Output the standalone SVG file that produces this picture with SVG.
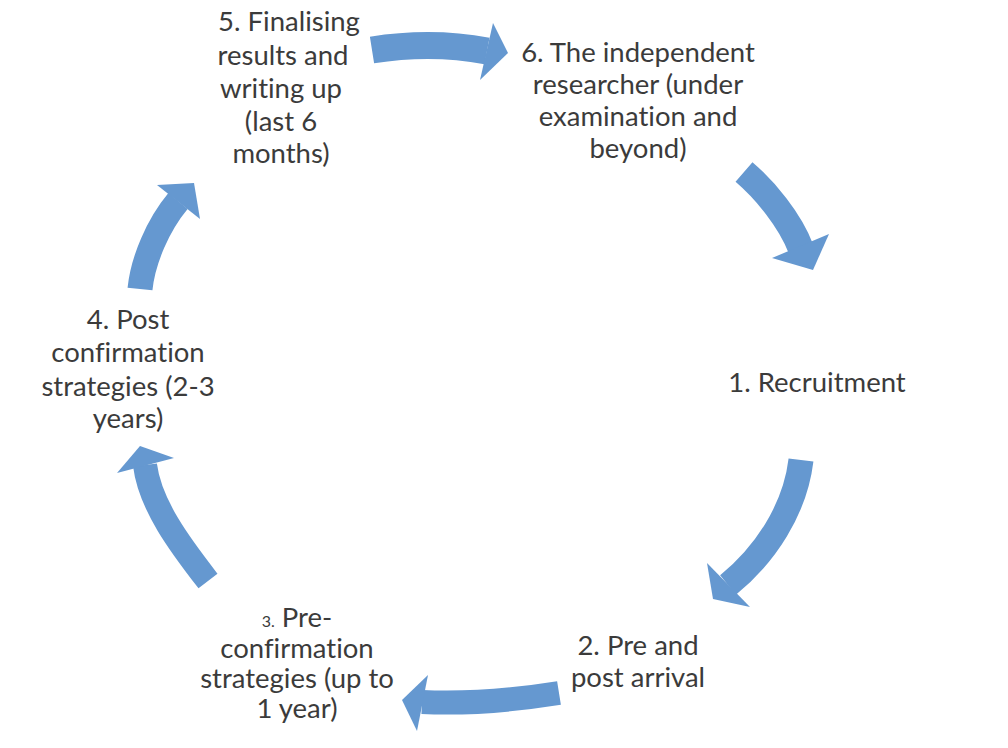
<svg xmlns="http://www.w3.org/2000/svg" width="1008" height="748" viewBox="0 0 1008 748">
<style>
.bg{fill:#ffffff}
.body{fill:none;stroke:#6598d0;stroke-linecap:butt}
.head{fill:#6598d0}
text{font-family:Lato,"Liberation Sans",sans-serif;font-size:27.5px;fill:#3b3b3b;text-anchor:middle;font-variant-ligatures:none;font-feature-settings:"liga" 0}
.small{font-size:16px}
</style>
<rect class="bg" x="0" y="0" width="1008" height="748"/>
<g id="connectors">
  <g id="arrow-5-6">
    <path class="body" stroke-width="27" d="M372,50 C410,44 450,44 487,51"/>
    <polygon class="head" points="493,23 508,53 480,80"/>
  </g>
  <g id="arrow-6-1">
    <path class="body" stroke-width="26" d="M744,172 C765,190 790,220 801,249"/>
    <polygon class="head" points="772,258 813,270 829,234"/>
  </g>
  <g id="arrow-1-2">
    <path class="body" stroke-width="25" d="M801,460 C795,510 765,555 728,585"/>
    <polygon class="head" points="707,563 713,599 750,607"/>
  </g>
  <g id="arrow-2-3">
    <path class="body" stroke-width="24" d="M559,693 C515,700 465,704 422,702"/>
    <polygon class="head" points="428,675 402,700 417,731"/>
  </g>
  <g id="arrow-3-4">
    <path class="body" stroke-width="24" d="M208,581 C180,545 150,505 145,465"/>
    <polygon class="head" points="117,473 140,446 174,458"/>
  </g>
  <g id="arrow-4-5">
    <path class="body" stroke-width="25" d="M140,289 C143,260 158,225 178,201"/>
    <polygon class="head" points="157,185 194,183 200,219"/>
  </g>
</g>
<g id="node-1">
  <text x="817" y="392">1. Recruitment</text>
</g>
<g id="node-2">
  <text x="638" y="655">2. Pre and</text>
  <text x="638" y="687">post arrival</text>
</g>
<g id="node-3">
  <text x="297" y="627"><tspan class="small">3.</tspan> Pre-</text>
  <text x="297" y="658">confirmation</text>
  <text x="297" y="688">strategies (up to</text>
  <text x="297" y="718">1 year)</text>
</g>
<g id="node-4">
  <text x="128" y="329">4. Post</text>
  <text x="128" y="362">confirmation</text>
  <text x="128" y="396">strategies (2-3</text>
  <text x="128" y="428">years)</text>
</g>
<g id="node-5">
  <text x="289" y="31">5. Finalising</text>
  <text x="283" y="65">results and</text>
  <text x="281" y="98">writing up</text>
  <text x="281" y="131">(last 6</text>
  <text x="281" y="163">months)</text>
</g>
<g id="node-6">
  <text x="638" y="62">6. The independent</text>
  <text x="638" y="94">researcher (under</text>
  <text x="638" y="126">examination and</text>
  <text x="638" y="158">beyond)</text>
</g>
</svg>
